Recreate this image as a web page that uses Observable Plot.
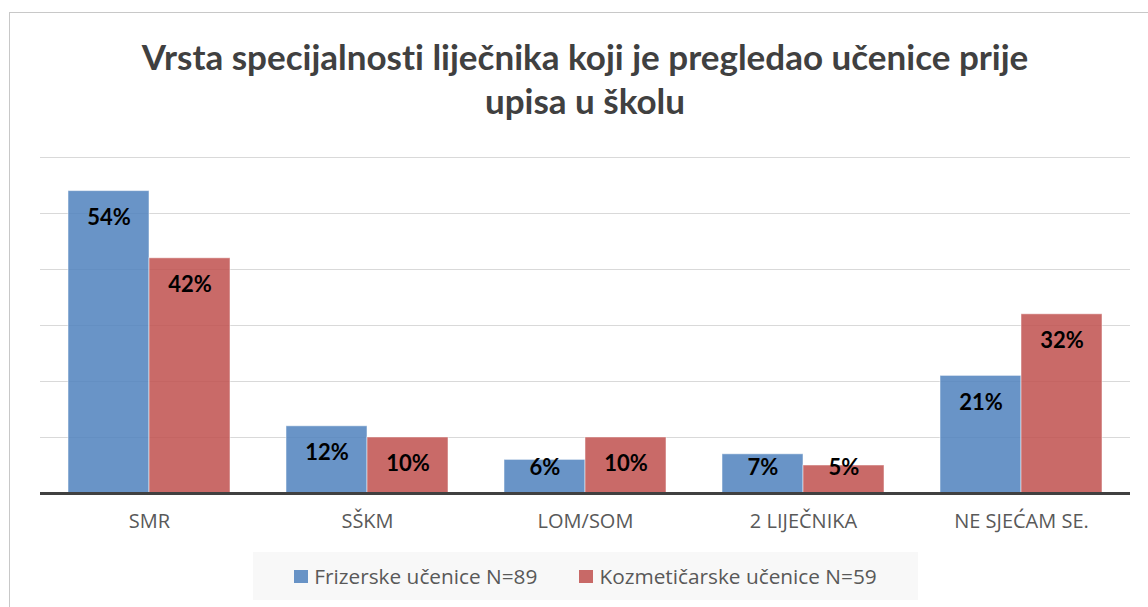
<!DOCTYPE html>
<html>
<head>
<meta charset="utf-8">
<script src="https://cdn.jsdelivr.net/npm/d3@7"></script>
<script src="https://cdn.jsdelivr.net/npm/@observablehq/plot@0.6"></script>
<style>
  html, body { margin: 0; padding: 0; background: #fff; width: 1148px; height: 607px; overflow: hidden; }
  #frame { position: absolute; left: 9px; top: 12px; width: 1200px; height: 700px; border: 1px solid #c8c8c8; box-sizing: border-box; }
  #title { position: absolute; left: 0; top: 34px; width: 1170px; text-align: center; font-family: Lato, "Open Sans", sans-serif; font-weight: 700; font-size: 35px; line-height: 44px; color: #404040; font-variant-ligatures: none; }
  #chart { position: absolute; left: 0; top: 130px; }
  #legend { position: absolute; left: 253px; top: 552px; width: 665px; height: 48px; background: #f8f8f8; display: flex; align-items: center; justify-content: center; font-family: "Open Sans", sans-serif; font-size: 20.8px; color: #595959; }
  .item { display: flex; align-items: center; margin: 0 21px; }
  .sw { width: 14px; height: 13px; margin-right: 6px; }
</style>
</head>
<body>
<div id="frame"></div>
<div id="title">Vrsta specijalnosti liječnika koji je pregledao učenice prije<br>upisa u školu</div>
<div id="chart"></div>
<div id="legend"></div>
<script>
const categories = ["SMR", "SŠKM", "LOM/SOM", "2 LIJEČNIKA", "NE SJEĆAM SE."];
const seriesNames = ["Frizerske učenice N=89", "Kozmetičarske učenice N=59"];
const frizerske = [54, 12, 6, 7, 21];
const kozmeticarske = [42, 10, 10, 5, 32];
const colors = ["#4f81bd", "#c0504d"];

const data = [];
categories.forEach((c, i) => {
  data.push({cat: c, series: seriesNames[0], value: frizerske[i]});
  data.push({cat: c, series: seriesNames[1], value: kozmeticarske[i]});
});

const chart = Plot.plot({
  width: 1148,
  height: 410,
  marginLeft: 38,
  marginRight: 16,
  marginTop: 27,
  marginBottom: 47,
  style: {fontFamily: "'Open Sans', sans-serif", background: "transparent", overflow: "visible"},
  fx: {domain: categories, padding: 0, label: null, axis: null},
  x: {domain: seriesNames, paddingInner: 0, paddingOuter: 0.334, axis: null},
  y: {domain: [0, 60], axis: null},
  color: {domain: seriesNames, range: colors},
  marks: [
    Plot.gridY([10, 20, 30, 40, 50, 60], {stroke: "#d9d9d9", strokeOpacity: 1, strokeWidth: 1}),
    Plot.barY(data, {fx: "cat", x: "series", y: "value", fill: "series", fillOpacity: 0.85, stroke: "white", strokeOpacity: 0.5, strokeWidth: 1}),
    Plot.ruleY([0], {stroke: "#404040", strokeWidth: 3}),
    Plot.text(data, {fx: "cat", x: "series", y: d => Math.max(d.value - 4.8, 4.6), text: d => d.value + "%", fill: "#000", fontWeight: "bold", fontSize: 22, fontFamily: "Lato, 'Open Sans', sans-serif"}),
    Plot.axisFx({anchor: "bottom", tickSize: 0, tickPadding: 20, fontSize: 20, color: "#595959", label: null})
  ]
});
document.getElementById("chart").appendChild(chart);

const legend = document.getElementById("legend");
seriesNames.forEach((s, i) => {
  const it = document.createElement("div");
  it.className = "item";
  const sw = document.createElement("div");
  sw.className = "sw";
  sw.style.background = colors[i];
  sw.style.opacity = 0.85;
  const t = document.createElement("span");
  t.textContent = s;
  it.appendChild(sw);
  it.appendChild(t);
  legend.appendChild(it);
});
</script>
</body>
</html>
